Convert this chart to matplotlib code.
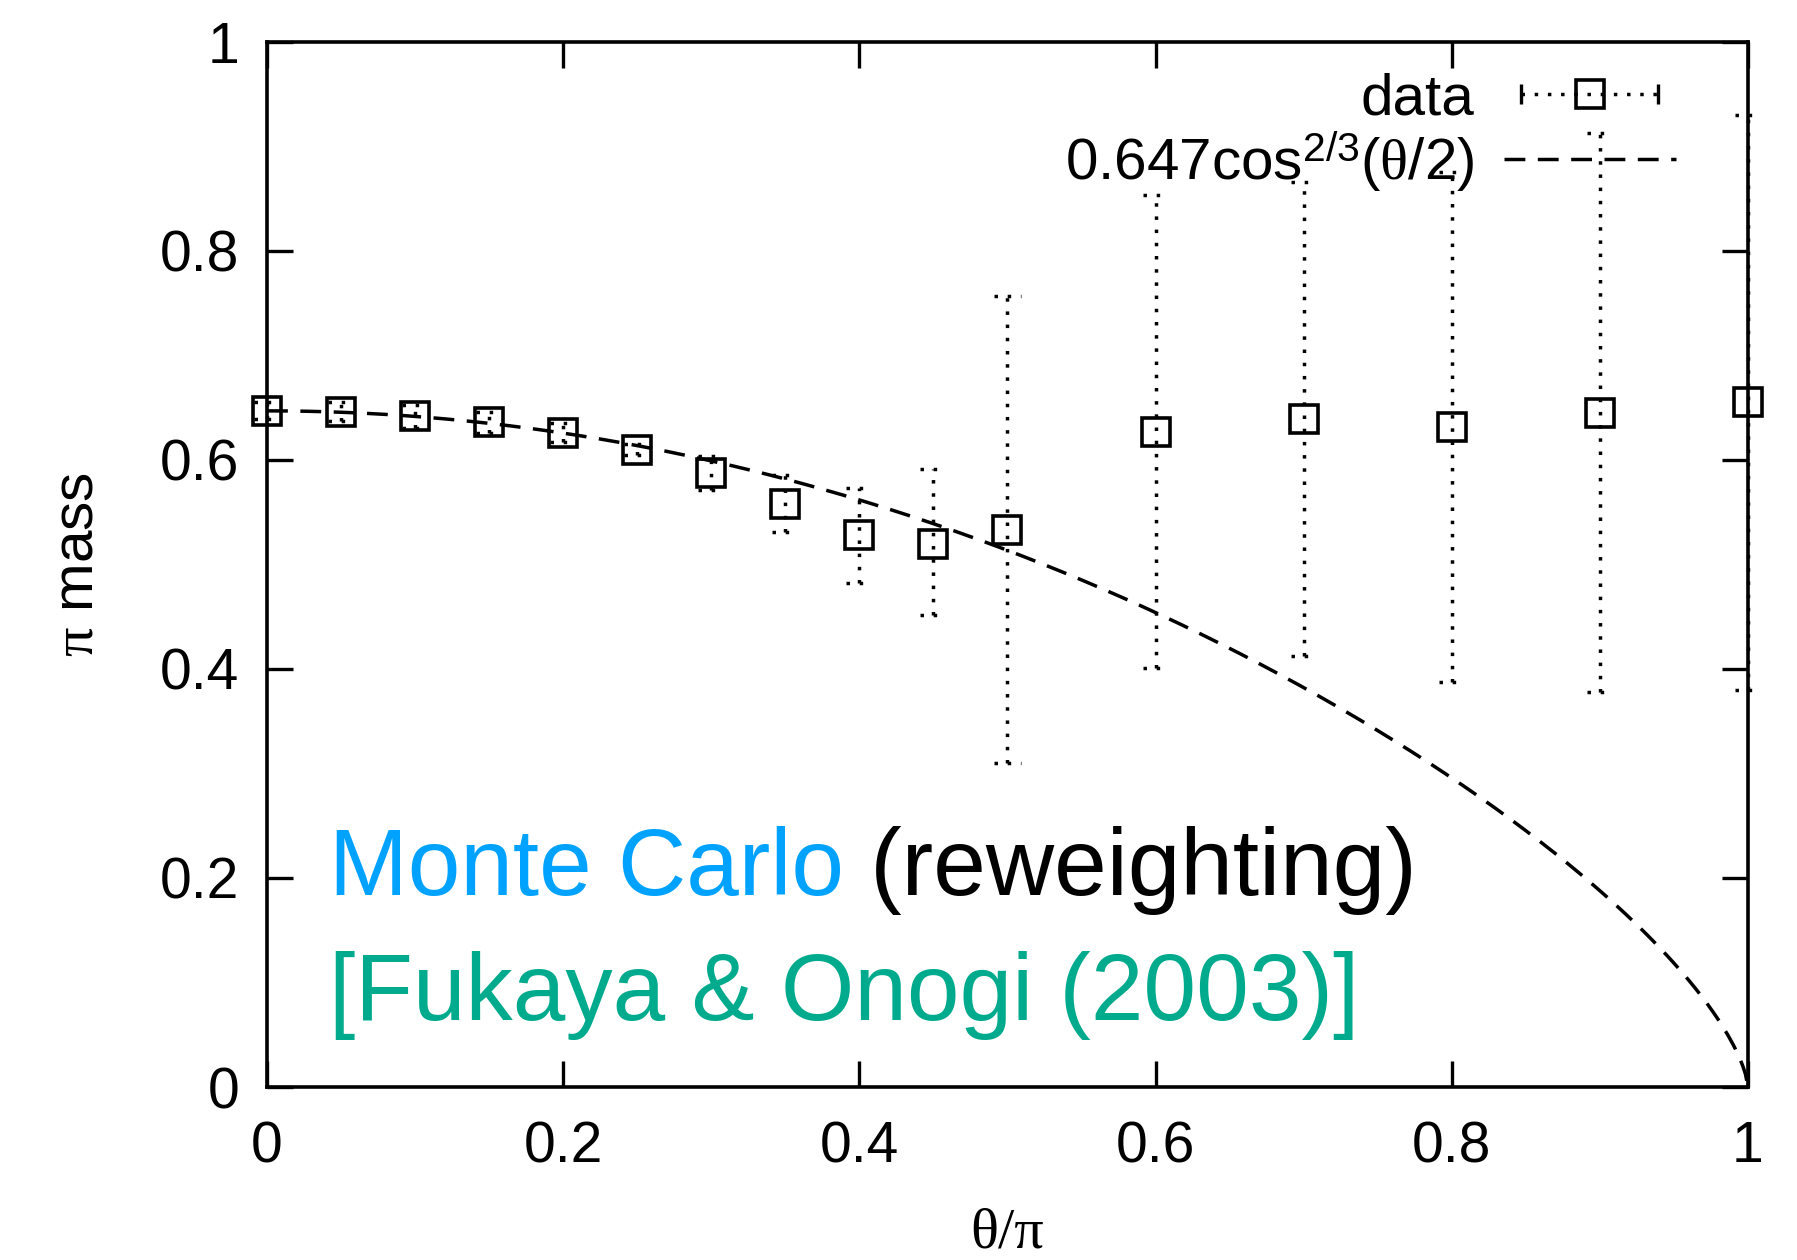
import numpy as np
import matplotlib.pyplot as plt
from matplotlib.lines import Line2D
from matplotlib.legend_handler import HandlerLine2D

# theta/pi values and measured pi mass with error bar ends
theta = [0.0, 0.05, 0.1, 0.15, 0.2, 0.25, 0.3, 0.35, 0.4, 0.45, 0.5, 0.6, 0.7, 0.8, 0.9, 1.0]
mass = [0.647, 0.646, 0.642, 0.636, 0.626, 0.610, 0.588, 0.558, 0.528, 0.520, 0.533,
        0.627, 0.639, 0.632, 0.645, 0.655]
err_hi = [0.655, 0.655, 0.653, 0.646, 0.635, 0.615, 0.604, 0.586, 0.573, 0.591, 0.757,
          0.854, 0.866, 0.876, 0.913, 0.930]
err_lo = [0.639, 0.637, 0.631, 0.626, 0.617, 0.605, 0.571, 0.531, 0.482, 0.452, 0.310,
          0.401, 0.412, 0.388, 0.378, 0.380]

# fit: 0.647 cos^{2/3}(theta/2)
FIT_AMP = 0.647
FIT_POW = 2.0 / 3.0

TICKS = [0, 0.2, 0.4, 0.6, 0.8, 1]
TICK_LABELS = ["0", "0.2", "0.4", "0.6", "0.8", "1"]

BLUE = "#00a2ff"
TEAL = "#00aa8c"

plt.rcParams["font.family"] = ["Liberation Sans", "DejaVu Sans"]
plt.rcParams["mathtext.fontset"] = "custom"
plt.rcParams["mathtext.rm"] = "Liberation Sans"
plt.rcParams["mathtext.it"] = "Liberation Serif"
plt.rcParams["mathtext.bf"] = "Liberation Sans:bold"

LW = 2.5
DOT = (0, (1, 2.8))
DASH = (6, 3.6)
MS = 20.5
MEW = 2.6

fig = plt.figure(figsize=(17.97, 12.6), dpi=100)
ax = fig.add_axes([0.1486, 0.1373, 0.8241, 0.8294])

x = np.array(theta)
y = np.array(mass)
hi = np.array(err_hi)
lo = np.array(err_lo)

# fit curve
xs = np.linspace(0, 1, 600)
fit = FIT_AMP * np.clip(np.cos(np.pi * xs / 2), 0, None) ** FIT_POW
ax.plot(xs, fit, color="black", lw=LW, dashes=DASH, clip_on=False, zorder=2)

# error bars (dotted, gnuplot style) with dotted caps
cap = 0.0088
ax.vlines(x, lo, hi, colors="black", linewidth=LW, linestyles=DOT, clip_on=False, zorder=3)
ax.hlines(hi, x - cap, x + cap, colors="black", linewidth=LW, linestyles=DOT, clip_on=False, zorder=3)
ax.hlines(lo, x - cap, x + cap, colors="black", linewidth=LW, linestyles=DOT, clip_on=False, zorder=3)
ax.plot(x, y, linestyle="none", marker="s", markersize=MS, markerfacecolor="none",
        markeredgecolor="black", markeredgewidth=MEW, clip_on=False, zorder=4)

ax.set_xlim(0, 1)
ax.set_ylim(0, 1)
ax.set_xticks(TICKS)
ax.set_xticklabels(TICK_LABELS)
ax.set_yticks(TICKS)
ax.set_yticklabels(TICK_LABELS)
ax.tick_params(direction="in", length=19, width=2.4, labelsize=41, pad=20,
               top=True, right=True)
ax.tick_params(axis="x", pad=24)
for s in ax.spines.values():
    s.set_linewidth(2.6)

ax.set_xlabel("θ/π", fontsize=42, family="Liberation Serif", labelpad=24)
ax.set_ylabel(r"$\pi$ mass", fontsize=42, labelpad=40)

# legend in gnuplot style: text right-aligned, sample on the right
h_line = Line2D([], [], color="black", lw=LW, linestyle=DOT, marker="|",
                markersize=15, markeredgewidth=2.4)
h_box = Line2D([], [], linestyle="none", marker="s", markersize=MS,
               markerfacecolor="none", markeredgecolor="black", markeredgewidth=MEW)
h_fit = Line2D([], [], color="black", lw=LW, dashes=DASH)
leg = ax.legend([(h_line, h_box), h_fit],
                ["data", r"0.647cos$^{2/3}$($\theta$/2)"],
                handler_map={h_line: HandlerLine2D(numpoints=2),
                             h_box: HandlerLine2D(numpoints=1)},
                loc="upper right", bbox_to_anchor=(0.975, 1.004), frameon=False,
                markerfirst=False, fontsize=42, handlelength=2.95,
                handletextpad=0.5, labelspacing=0.05, borderaxespad=0.2)

t1 = ax.text(0.042, 0.184, "Monte Carlo", color=BLUE, fontsize=68, va="baseline", ha="left")
ax.annotate(" (reweighting)", xy=(1, 0), xycoords=t1, color="black", fontsize=68,
            va="bottom", ha="left")
ax.text(0.042, 0.064, "[Fukaya & Onogi (2003)]", color=TEAL, fontsize=68,
        va="baseline", ha="left")

fig.savefig("out.png", dpi=100)
